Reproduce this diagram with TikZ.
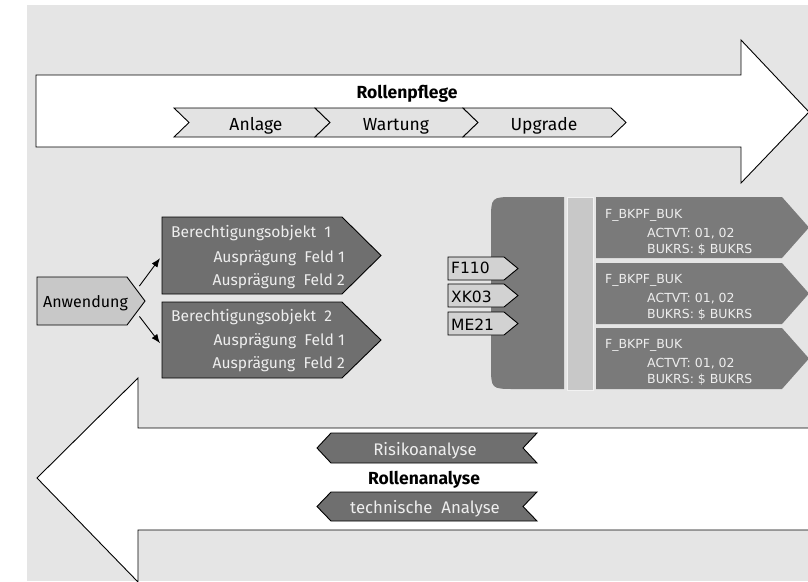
\documentclass[tikz,border=0pt]{standalone}
\usepackage{fontspec}
\setmainfont{Fira Sans}
\newfontfamily\techfont{DejaVu Sans}
\usetikzlibrary{arrows.meta,calc}

\definecolor{bggray}{HTML}{E5E5E5}
\definecolor{chevfill}{HTML}{E3E3E3}
\definecolor{midgray}{HTML}{C8C8C8}
\definecolor{taggray}{HTML}{D2D2D2}
\definecolor{darkgray}{HTML}{6F6F6F}
\definecolor{blockgray}{HTML}{7A7A7A}
\definecolor{lighttext}{HTML}{EEEEEE}

\begin{document}
\begin{tikzpicture}[x=1pt,y=-1pt,
  outline/.style={draw=black, line width=0.9pt, line join=miter},
  bigarrow/.style={outline, fill=white},
  chev/.style={outline, fill=chevfill},
  appbox/.style={outline, fill=midgray},
  objbox/.style={outline, fill=darkgray},
  permbox/.style={fill=blockgray},
  tagbox/.style={outline, fill=taggray},
  body/.style={rectangle, inner sep=0pt, draw=none},
  txt/.style={inner sep=0pt, font=\fontsize{16}{18}\selectfont},
  bigtxt/.style={inner sep=0pt, font=\fontsize{17.5}{19}\selectfont},
  boldtxt/.style={inner sep=0pt, font=\fontsize{17.5}{19}\selectfont\bfseries},
  lighttxt/.style={txt, text=lighttext},
  bandtxt/.style={inner sep=0pt, text=lighttext, font=\fontsize{16.8}{19}\selectfont},
  objtxt/.style={inner sep=0pt, text=lighttext, font=\fontsize{15.6}{18}\selectfont},
  techtxt/.style={inner sep=0pt, text=lighttext, font=\techfont\fontsize{12.5}{14}\selectfont},
  tagtxt/.style={inner sep=0pt, font=\techfont\fontsize{15.5}{17}\selectfont},
  link/.style={line width=0.9pt, -{Latex[length=9pt,width=7pt]}}
]
\clip (0,0) rectangle (808,581);
\fill[bggray] (27,5) rectangle (808,581);

% ---------- upper arrow: role maintenance ----------
\draw[bigarrow] (36,75) -- (741,75) -- (741,40) -- (809,112) -- (741,183) -- (741,147) -- (36,147) -- cycle;
\node[boldtxt, anchor=base] (pflege) at (407,98) {Rollenpflege};

\draw[chev] (174,108) -- (315,108) -- (330,122.5) -- (315,137) -- (174,137) -- (189,122.5) -- cycle;
\draw[chev] (315,108) -- (463,108) -- (478,122.5) -- (463,137) -- (315,137) -- (330,122.5) -- cycle;
\draw[chev] (463,108) -- (611,108) -- (626,122.5) -- (611,137) -- (463,137) -- (478,122.5) -- cycle;
\node[bigtxt, anchor=base] (anlage) at (256,130) {Anlage};
\node[bigtxt, anchor=base] (wartung) at (396,130) {Wartung};
\node[bigtxt, anchor=base] (upgrade) at (544,130) {Upgrade};

% ---------- lower arrow: role analysis ----------
\draw[bigarrow] (815,428) -- (138,428) -- (138,378) -- (37,478) -- (138,582) -- (138,530) -- (815,530);

\draw[objbox] (317,448) -- (331,433) -- (537,433) -- (523,448) -- (537,463) -- (331,463) -- cycle;
\draw[objbox] (317,506.5) -- (331,492) -- (537,492) -- (523,506.5) -- (537,521) -- (331,521) -- cycle;
\node[bandtxt, anchor=base] (risiko) at (425,455) {Risikoanalyse};
\node[boldtxt, anchor=base] (ranalyse) at (424,484) {Rollenanalyse};
\node[bandtxt, anchor=base] (technik) at (425,513) {technische\ \ Analyse};

% ---------- application and authorization objects ----------
\draw[appbox] (37,277) -- (127,277) -- (145,301) -- (127,325) -- (37,325) -- cycle;
\node[body, minimum width=90pt, minimum height=48pt, anchor=north west] (anw) at (37,277) {};
\node[txt, anchor=base west] (anwtxt) at (43,307) {Anwendung};

\draw[objbox] (162,217) -- (342,217) -- (381,255.5) -- (342,294) -- (162,294) -- cycle;
\draw[objbox] (162,302) -- (342,302) -- (381,340) -- (342,378) -- (162,378) -- cycle;
\node[body, minimum width=180pt, minimum height=77pt, anchor=north west] (obj1) at (162,217) {};
\node[body, minimum width=180pt, minimum height=76pt, anchor=north west] (obj2) at (162,302) {};

\node[objtxt, anchor=base west] (o1a) at (171,237) {Berechtigungsobjekt\ \ 1};
\node[objtxt, anchor=base east] (o1b) at (345,262) {Ausprägung\ \ Feld 1};
\node[objtxt, anchor=base east] (o1c) at (345,285) {Ausprägung\ \ Feld 2};
\node[objtxt, anchor=base west] (o2a) at (171,321) {Berechtigungsobjekt\ \ 2};
\node[objtxt, anchor=base east] (o2b) at (345,345) {Ausprägung\ \ Feld 1};
\node[objtxt, anchor=base east] (o2c) at (345,368) {Ausprägung\ \ Feld 2};

\draw[link] ($(anw.north east)+(12,9)$) -- ($(obj1.west)+(-2,2.5)$);
\draw[link] ($(anw.south east)+(12,-9)$) -- ($(obj2.west)+(-2,3)$);

% ---------- transactions, role block and permissions ----------
\fill[blockgray] (564,197) -- (515,197) .. controls (491,197) .. (491,221) -- (491,365) .. controls (491,389) .. (515,389) -- (564,389) -- cycle;
\filldraw[fill=midgray, draw=white!95!black, line width=1pt] (567,197) rectangle (593,390);

\draw[tagbox] (448,257) -- (504,257) -- (518,268.5) -- (504,280) -- (448,280) -- cycle;
\draw[tagbox] (448,284) -- (504,284) -- (518,295.5) -- (504,307) -- (448,307) -- cycle;
\draw[tagbox] (448,312) -- (504,312) -- (518,323.5) -- (504,335) -- (448,335) -- cycle;
\node[tagtxt, anchor=base west] (t1) at (451,273) {F110};
\node[tagtxt, anchor=base west] (t2) at (451,302) {XK03};
\node[tagtxt, anchor=base west] (t3) at (451,330) {ME21};

\fill[permbox] (596,197) -- (782,197) -- (809,227.5) -- (782,258) -- (596,258) -- cycle;
\fill[permbox] (596,263) -- (782,263) -- (809,293.5) -- (782,324) -- (596,324) -- cycle;
\fill[permbox] (596,328) -- (782,328) -- (809,358.5) -- (782,389) -- (596,389) -- cycle;

\node[techtxt, anchor=base west] (p1a) at (605,218) {F\_BKPF\_BUK};
\node[techtxt, anchor=base west] (p1b) at (647,237) {ACTVT: 01, 02};
\node[techtxt, anchor=base west] (p1c) at (647,253) {BUKRS: \$ BUKRS};
\node[techtxt, anchor=base west] (p2a) at (605,283) {F\_BKPF\_BUK};
\node[techtxt, anchor=base west] (p2b) at (647,302) {ACTVT: 01, 02};
\node[techtxt, anchor=base west] (p2c) at (647,318) {BUKRS: \$ BUKRS};
\node[techtxt, anchor=base west] (p3a) at (605,348) {F\_BKPF\_BUK};
\node[techtxt, anchor=base west] (p3b) at (647,367) {ACTVT: 01, 02};
\node[techtxt, anchor=base west] (p3c) at (647,383) {BUKRS: \$ BUKRS};
\end{tikzpicture}
\end{document}
